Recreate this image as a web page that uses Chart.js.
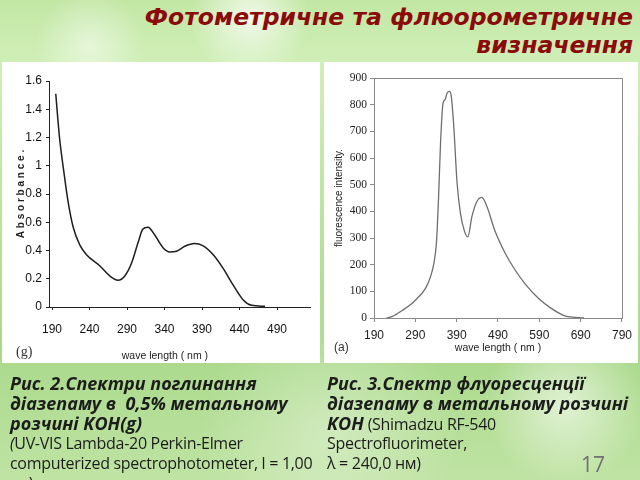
<!DOCTYPE html>
<html>
<head>
<meta charset="utf-8">
<script src="https://cdn.jsdelivr.net/npm/chart.js@4.4.1/dist/chart.umd.min.js"></script>
<style>
  body {
    margin: 0; width: 640px; height: 480px; overflow: hidden; position: relative;
    background:
      radial-gradient(circle at 250px 18px, rgba(255,255,255,0.75) 0, rgba(255,255,255,0) 60px),
      radial-gradient(circle at 90px 45px, rgba(255,255,255,0.5) 0, rgba(255,255,255,0) 55px),
      radial-gradient(circle at 565px 405px, rgba(255,255,255,0.6) 0, rgba(255,255,255,0) 80px),
      radial-gradient(circle at 330px 430px, rgba(255,255,255,0.35) 0, rgba(255,255,255,0) 130px),
      linear-gradient(180deg, #c2e7a4 0%, #d0efb8 13%, #a9d98a 72%, #bfe3a3 100%);
  }
  .panel { position: absolute; background: #fff; }
  #p1 { left: 2px; top: 62px; width: 318px; height: 301px; }
  #p2 { left: 324px; top: 62px; width: 314px; height: 301px; }
  h1 {
    position: absolute; right: 7px; top: 3px; margin: 0;
    font: italic bold 23.5px "DejaVu Sans", sans-serif; line-height: 28px;
    color: #8b0a0a; text-align: right;
  }
  .cap {
    position: absolute; top: 373px; margin: 0;
    font: 16px "Open Sans", sans-serif; color: #1c1c1c;
    white-space: nowrap; letter-spacing: -0.3px;
  }
  .cap div { height: 20px; line-height: 20px; }
  .cap b { font-style: italic; font-weight: bold; font-size: 18px; letter-spacing: 0; }
  #c1 { left: 10px; }
  #c2 { left: 327px; }
  .tag { position: absolute; font: 14px "Liberation Serif", serif; color: #333; }
  #num { position: absolute; left: 581px; top: 450px; font: 21px "Open Sans", sans-serif; color: #707070; }
</style>
</head>
<body>
<h1>Фотометричне та флюорометричне<br>визначення</h1>
<div class="panel" id="p1"><canvas id="absChart" width="318" height="301"></canvas></div>
<div class="panel" id="p2"><canvas id="fluChart" width="314" height="301"></canvas></div>
<div class="tag" style="left:16px;top:344px;">(g)</div>
<div class="tag" style="left:334px;top:340px;font-family:'Liberation Sans',sans-serif;font-size:12px;">(a)</div>
<div class="cap" id="c1">
  <div><b>Рис. 2.Спектри поглинання</b></div>
  <div><b>діазепаму в&nbsp; 0,5% метальному</b></div>
  <div><b>розчині KOH(g)</b></div>
  <div><i>(</i>UV-VIS Lambda-20 Perkin-Elmer</div>
  <div>computerized spectrophotometer, l = 1,00</div>
  <div>см)</div>
</div>
<div class="cap" id="c2">
  <div><b>Рис. 3.Спектр флуоресценції</b></div>
  <div><b>діазепаму в метальному розчині</b></div>
  <div><b>KOH</b> (Shimadzu RF-540</div>
  <div>Spectrofluorimeter,</div>
  <div>λ = 240,0 нм)</div>
</div>
<div id="num">17</div>
<script>
// absorption spectrum (left)
const absX = [195, 200, 206, 211, 218, 227, 236, 254, 267, 278, 287, 296, 305, 311, 318, 327, 338, 347, 356, 367, 380, 391, 405, 418, 431, 445, 456, 474];
const absY = [1.51, 1.20, 0.95, 0.76, 0.57, 0.44, 0.37, 0.29, 0.22, 0.19, 0.22, 0.31, 0.46, 0.55, 0.565, 0.51, 0.42, 0.39, 0.395, 0.43, 0.45, 0.435, 0.37, 0.275, 0.16, 0.05, 0.012, 0.005];
const absTicks = [190, 240, 290, 340, 390, 440, 490];

// fluorescence spectrum (right)
const fluX = [220, 235, 259, 287, 315, 327, 335, 341, 346, 351, 357, 362, 367, 373, 377, 383, 391, 399, 409, 417, 427, 439, 451, 463, 483, 507, 531, 555, 587, 618, 650, 666, 698];
const fluY = [0, 6, 29, 62, 112, 156, 206, 281, 444, 656, 806, 819, 844, 850, 831, 719, 506, 394, 325, 304, 381, 437, 452, 419, 325, 244, 181, 129, 75, 37, 9, 4, 0];
const fluTicks = [190, 290, 390, 490, 590, 690, 790];

const pts = (xs, ys) => xs.map((x, i) => ({ x: x, y: ys[i] }));

const boxBorder = {
  id: 'boxBorder',
  afterDraw(chart) {
    const { ctx, chartArea: a } = chart;
    ctx.save();
    ctx.strokeStyle = '#8a8a8a';
    ctx.lineWidth = 1;
    ctx.strokeRect(a.left + 0.5, a.top + 0.5, a.right - a.left, a.bottom - a.top);
    ctx.restore();
  }
};

new Chart(document.getElementById('absChart'), {
  type: 'line',
  data: {
    datasets: [{
      data: pts(absX, absY),
      borderColor: '#1e1e1e',
      borderWidth: 1.5,
      pointRadius: 0,
      cubicInterpolationMode: 'monotone'
    }]
  },
  options: {
    responsive: false,
    animation: false,
    devicePixelRatio: 1,
    layout: { padding: { top: 19, right: 10 } },
    plugins: { legend: { display: false }, tooltip: { enabled: false } },
    scales: {
      x: {
        type: 'linear', min: 186, max: 534,
        afterBuildTicks: s => { s.ticks = absTicks.map(v => ({ value: v })); },
        afterFit: s => { s.height = 56; },
        grid: { drawOnChartArea: false, tickLength: 3, color: '#222' },
        border: { color: '#222', width: 1 },
        ticks: { padding: 12, color: '#111', font: { family: "'Liberation Sans Narrow', 'Liberation Sans', sans-serif", size: 12 } },
        title: {
          display: true, text: 'wave length ( nm )' + '\u00a0'.repeat(10), color: '#222',
          font: { family: "'Liberation Sans', sans-serif", size: 10.5 },
          padding: { top: 0, bottom: 1 }
        }
      },
      y: {
        min: 0, max: 1.6,
        afterBuildTicks: s => { s.ticks = [0, 0.2, 0.4, 0.6, 0.8, 1, 1.2, 1.4, 1.6].map(v => ({ value: v })); },
        afterFit: s => { s.width = 47; },
        grid: { drawOnChartArea: false, tickLength: 3, color: '#222' },
        border: { color: '#222', width: 1 },
        ticks: { padding: 4, color: '#111', callback: v => String(+v.toFixed(1)), font: { family: "'Liberation Sans Narrow', 'Liberation Sans', sans-serif", size: 12 } },
        title: {
          display: true, text: 'A b s o r b a n c e .', color: '#222',
          font: { family: "'Liberation Sans', sans-serif", size: 10, weight: 'bold' },
          padding: { top: 13, bottom: 0 }
        }
      }
    }
  }
});

new Chart(document.getElementById('fluChart'), {
  type: 'line',
  data: {
    datasets: [{
      data: pts(fluX, fluY),
      borderColor: '#6e6e6e',
      borderWidth: 1.3,
      pointRadius: 0,
      cubicInterpolationMode: 'monotone'
    }]
  },
  options: {
    responsive: false,
    animation: false,
    devicePixelRatio: 1,
    layout: { padding: { top: 16, right: 13 } },
    plugins: { legend: { display: false }, tooltip: { enabled: false } },
    scales: {
      x: {
        type: 'linear', min: 190, max: 790,
        afterBuildTicks: s => { s.ticks = fluTicks.map(v => ({ value: v })); },
        afterFit: s => { s.height = 45; },
        grid: { drawOnChartArea: false, tickLength: 4, color: '#8a8a8a' },
        border: { color: '#8a8a8a', width: 1 },
        ticks: { padding: 6, color: '#222', font: { family: "'Liberation Sans', sans-serif", size: 12 } },
        title: {
          display: true, text: 'wave length ( nm )', color: '#222',
          font: { family: "'Liberation Sans', sans-serif", size: 10.5 },
          padding: { top: 0, bottom: 9 }
        }
      },
      y: {
        min: 0, max: 900,
        afterBuildTicks: s => { s.ticks = [0, 100, 200, 300, 400, 500, 600, 700, 800, 900].map(v => ({ value: v })); },
        afterFit: s => { s.width = 50; },
        grid: { drawOnChartArea: false, tickLength: 4, color: '#8a8a8a' },
        border: { color: '#8a8a8a', width: 1 },
        ticks: { padding: 3, color: '#222', font: { family: "'Liberation Serif', serif", size: 11.5 } },
        title: {
          display: true, text: 'fluorescence intensity.', color: '#222',
          font: { family: "'Liberation Sans', sans-serif", size: 10 },
          padding: { top: 9, bottom: 0 }
        }
      }
    }
  },
  plugins: [boxBorder]
});
</script>
</body>
</html>
